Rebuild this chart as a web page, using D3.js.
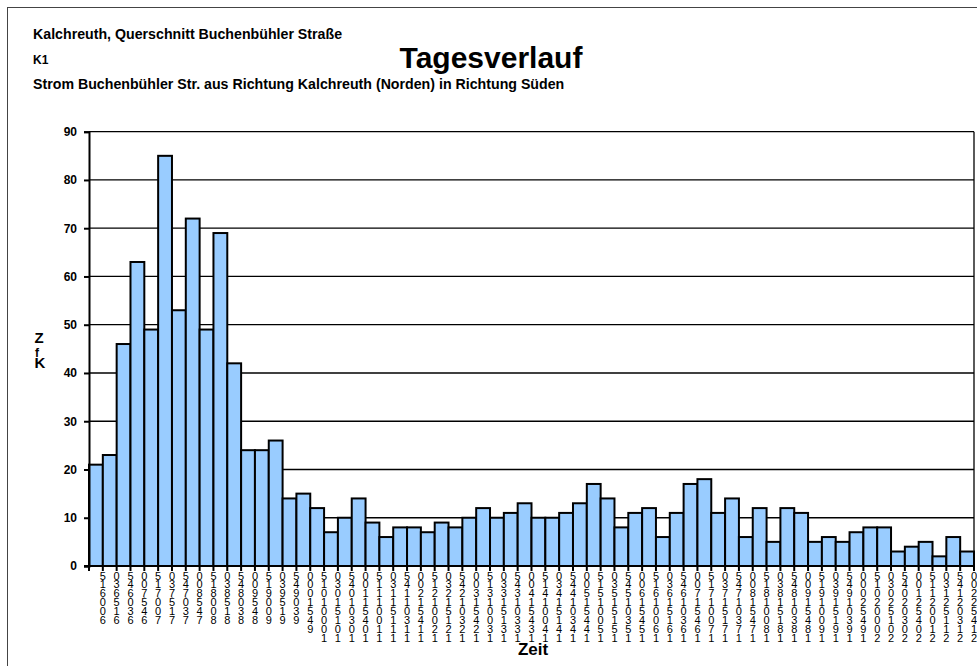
<!DOCTYPE html>
<html>
<head>
<meta charset="utf-8">
<script src="https://cdn.jsdelivr.net/npm/d3@7"></script>
<style>
  body { margin: 0; background: #fff; }
  text { font-family: "Liberation Sans", Arial, sans-serif; }
</style>
</head>
<body>
<div id="chart"></div>
<script>
var width = 977;
var height = 666;

// Kfz je 15 Minuten, 6:00 bis 22:00
var zeit = [
  "6:00-6:15","6:15-6:30","6:30-6:45","6:45-7:00",
  "7:00-7:15","7:15-7:30","7:30-7:45","7:45-8:00",
  "8:00-8:15","8:15-8:30","8:30-8:45","8:45-9:00",
  "9:00-9:15","9:15-9:30","9:30-9:45","9:45-10:00",
  "10:00-10:15","10:15-10:30","10:30-10:45","10:45-11:00",
  "11:00-11:15","11:15-11:30","11:30-11:45","11:45-12:00",
  "12:00-12:15","12:15-12:30","12:30-12:45","12:45-13:00",
  "13:00-13:15","13:15-13:30","13:30-13:45","13:45-14:00",
  "14:00-14:15","14:15-14:30","14:30-14:45","14:45-15:00",
  "15:00-15:15","15:15-15:30","15:30-15:45","15:45-16:00",
  "16:00-16:15","16:15-16:30","16:30-16:45","16:45-17:00",
  "17:00-17:15","17:15-17:30","17:30-17:45","17:45-18:00",
  "18:00-18:15","18:15-18:30","18:30-18:45","18:45-19:00",
  "19:00-19:15","19:15-19:30","19:30-19:45","19:45-20:00",
  "20:00-20:15","20:15-20:30","20:30-20:45","20:45-21:00",
  "21:00-21:15","21:15-21:30","21:30-21:45","21:45-22:00"
];

var kfz = [
  21, 23, 46, 63, 49, 85, 53, 72, 49, 69, 42, 24, 24, 26, 14, 15,
  12, 7, 10, 14, 9, 6, 8, 8, 7, 9, 8, 10, 12, 10, 11, 13,
  10, 10, 11, 13, 17, 14, 8, 11, 12, 6, 11, 17, 18, 11, 14, 6,
  12, 5, 12, 11, 5, 6, 5, 7, 8, 8, 3, 4, 5, 2, 6, 3
];

var yTicks = [0, 10, 20, 30, 40, 50, 60, 70, 80, 90];

var svg = d3.select("#chart").append("svg")
    .attr("width", width).attr("height", height);

svg.append("rect").attr("width", width).attr("height", height).attr("fill", "#fff");

// outer frame
svg.append("rect")
    .attr("x", 7.5).attr("y", 7.5)
    .attr("width", 1000).attr("height", 700)
    .attr("fill", "none").attr("stroke", "#444").attr("stroke-width", 1);

// titles
svg.append("text").attr("x", 33).attr("y", 39)
    .style("font-size", "14.2px").style("font-weight", "bold")
    .text("Kalchreuth, Querschnitt Buchenbühler Straße");
svg.append("text").attr("x", 33).attr("y", 64)
    .style("font-size", "12px").style("font-weight", "bold")
    .text("K1");
svg.append("text").attr("x", 33).attr("y", 89)
    .style("font-size", "14.2px").style("font-weight", "bold")
    .text("Strom Buchenbühler Str. aus Richtung Kalchreuth (Norden) in Richtung Süden");
svg.append("text").attr("x", 491).attr("y", 68)
    .attr("text-anchor", "middle")
    .style("font-size", "30px").style("font-weight", "bold")
    .text("Tagesverlauf");

var plotLeft = 89, plotRight = 974, plotTop = 131.7, plotBottom = 566;

var x = d3.scaleBand().domain(d3.range(kfz.length)).range([plotLeft, plotRight]).padding(0);
var y = d3.scaleLinear().domain([0, 90]).range([plotBottom, plotTop]);

var g = svg.append("g");

// gridlines
g.selectAll(".grid").data(yTicks.slice(1)).enter().append("line")
    .attr("x1", plotLeft).attr("x2", plotRight)
    .attr("y1", d => y(d)).attr("y2", d => y(d))
    .attr("stroke", "#000").attr("stroke-width", 1.3);

// right border of plot area
g.append("line").attr("x1", plotRight).attr("x2", plotRight)
    .attr("y1", plotTop).attr("y2", plotBottom)
    .attr("stroke", "#000").attr("stroke-width", 1.3);

// bars
g.selectAll(".bar").data(kfz).enter().append("rect")
    .attr("x", (d, i) => x(i))
    .attr("y", d => y(d))
    .attr("width", x.bandwidth())
    .attr("height", d => plotBottom - y(d))
    .attr("fill", "#99CCFF")
    .attr("stroke", "#000")
    .attr("stroke-width", 2);

// y axis
var yAxis = d3.axisLeft(y).tickValues(yTicks).tickSize(5).tickPadding(7);
var ya = svg.append("g").attr("transform", `translate(${plotLeft},0)`).call(yAxis);
ya.select(".domain").attr("stroke-width", 2);
ya.selectAll(".tick line").attr("stroke-width", 2);
ya.selectAll("text").style("font-size", "12px").style("font-weight", "bold")
    .style("font-family", "Liberation Sans, Arial, sans-serif");

// x axis: ticks at every category boundary
var xa = svg.append("g");
xa.append("line").attr("x1", plotLeft - 5).attr("x2", plotRight)
    .attr("y1", plotBottom).attr("y2", plotBottom)
    .attr("stroke", "#000").attr("stroke-width", 2);
xa.selectAll(".xt").data(d3.range(kfz.length + 1)).enter().append("line")
    .attr("x1", i => plotLeft + i * x.step()).attr("x2", i => plotLeft + i * x.step())
    .attr("y1", plotBottom).attr("y2", plotBottom + 5)
    .attr("stroke", "#000").attr("stroke-width", 2);

// stacked category labels (characters reversed, top to bottom)
zeit.forEach(function(lbl, i) {
    var cx = x(i) + x.bandwidth();
    var chars = lbl.split("").reverse();
    var yy = 579.5;
    var t = xa.append("text").attr("text-anchor", "middle")
        .style("font-size", "11px").attr("fill", "#000");
    chars.forEach(function(c) {
        if (c === ":" || c === "-") {
            t.append("tspan").attr("x", cx).attr("y", yy - 7)
                .style("font-size", "6px").text(c);
        } else {
            t.append("tspan").attr("x", cx).attr("y", yy).text(c);
            yy += 8.9;
        }
    });
});

// axis titles
svg.append("text").attr("x", 533).attr("y", 655)
    .attr("text-anchor", "middle")
    .style("font-size", "17px").style("font-weight", "bold")
    .text("Zeit");

var yt = svg.append("text").attr("text-anchor", "middle")
    .style("font-size", "15px").style("font-weight", "bold");
yt.append("tspan").attr("x", 39).attr("y", 343).text("Z");
yt.append("tspan").attr("x", 37).attr("y", 357).style("font-size", "12px").text("f");
yt.append("tspan").attr("x", 40).attr("y", 368).text("K");
</script>
</body>
</html>
